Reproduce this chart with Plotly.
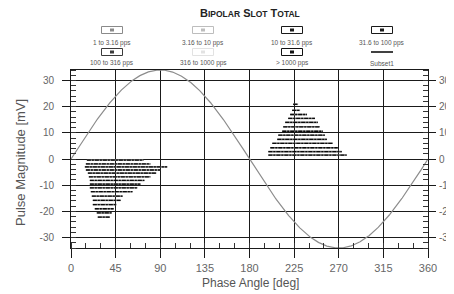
import numpy as np
import plotly.graph_objects as go

# ---------------- data ----------------
PHASE_TICKS = [0, 45, 90, 135, 180, 225, 270, 315, 360]
MAG_TICKS = [-30, -20, -10, 0, 10, 20, 30]
Y_RANGE = [-34, 34]
SINE_AMPLITUDE = 34

# negative-half-cycle pulse rows (magnitude, phase start, phase end)
NEG_MAG = [-0.4, -1.9, -3.0, -4.2, -5.4, -6.8, -8.2, -9.6, -11.0, -12.5, -14.2, -15.8, -17.4, -19.0, -20.6, -22.2]
NEG_START = [16, 15, 14, 15, 17, 18, 19, 19, 19, 20, 21, 22, 22, 24, 26, 27]
NEG_END = [73, 80, 97, 90, 86, 80, 74, 70, 67, 62, 52, 50, 46, 43, 41, 39]

# positive-half-cycle pulse rows
POS_MAG = [20.9, 18.6, 17.0, 15.5, 14.0, 12.3, 10.6, 9.1, 7.5, 6.0, 4.3, 2.8, 1.5]
POS_START = [224, 223, 221, 219, 216, 214, 213, 209, 208, 203, 201, 199, 199]
POS_END = [229, 231, 238, 246, 249, 251, 254, 256, 258, 264, 269, 273, 278]

LEGEND_LABELS = ["1 to 3.16 pps", "3.16 to 10 pps", "10 to 31.6 pps", "31.6 to 100 pps",
                 "100 to 316 pps", "316 to 1000 pps", "> 1000 pps", "Subset1"]
LEGEND_COLORS = ["#8a8a8a", "#bdbdbd", "#1a1a1a", "#1a1a1a",
                 "#3a3a3a", "#e2e2e2", "#111111", "#111111"]

# ---------------- layout constants ----------------
OFF = 8                      # page body margin
W, H = 454 - OFF, 294 - OFF
ML, MR, MT, MB = 71 - OFF, 26, 70 - OFF, 46
PW, PH = W - ML - MR, H - MT - MB


def px(x):
    """page x pixel -> paper coordinate"""
    return (x - OFF - ML) / PW


def py(y):
    """page y pixel -> paper coordinate"""
    return (H - MB - (y - OFF)) / PH


def rows_to_xy(mags, starts, ends):
    xs, ys = [], []
    for m, s, e in zip(mags, starts, ends):
        xs += [s, e, None]
        ys += [m, m, None]
    return xs, ys


fig = go.Figure()

phase = np.linspace(0, 360, 721)
fig.add_trace(go.Scatter(x=phase, y=SINE_AMPLITUDE * np.sin(np.radians(phase)),
                         mode="lines", line=dict(color="#8c8c8c", width=1.2),
                         hoverinfo="skip", showlegend=False))

for mags, starts, ends in [(NEG_MAG, NEG_START, NEG_END), (POS_MAG, POS_START, POS_END)]:
    xs, ys = rows_to_xy(mags, starts, ends)
    fig.add_trace(go.Scatter(x=xs, y=ys, mode="lines",
                             line=dict(color="#7a7a7a", width=1.6),
                             hoverinfo="skip", showlegend=False))
    fig.add_trace(go.Scatter(x=xs, y=ys, mode="lines",
                             line=dict(color="#0a0a0a", width=1.3, dash="4px,1px,2px,1px"),
                             hoverinfo="skip", showlegend=False))

# dummy trace to activate right axis
fig.add_trace(go.Scatter(x=[None], y=[None], yaxis="y2", showlegend=False, hoverinfo="skip"))

FONT = "Liberation Sans, Arial, sans-serif"
ytickfont = dict(family=FONT, size=10, color="#666666")
xtickfont = dict(family=FONT, size=11, color="#666666")

fig.update_layout(
    width=W, height=H,
    margin=dict(l=ML, r=MR, t=MT, b=MB),
    paper_bgcolor="white", plot_bgcolor="white",
    font=dict(family=FONT, color="#555555"),
    showlegend=False,
    xaxis=dict(range=[0, 360], tickvals=PHASE_TICKS, ticktext=[str(v) for v in PHASE_TICKS],
               automargin=False,
               showgrid=True, gridcolor="#1a1a1a", gridwidth=1, zeroline=False,
               ticks="outside", ticklen=9, tickcolor="#1a1a1a", tickwidth=1,
               showline=True, linecolor="#1a1a1a", linewidth=1, mirror=True,
               minor=dict(dtick=15, ticks="inside", ticklen=5, tickcolor="#333333", showgrid=False),
               tickfont=xtickfont, ticklabelstandoff=1),
    yaxis=dict(range=Y_RANGE, tickvals=MAG_TICKS, ticktext=[str(v) for v in MAG_TICKS],
               automargin=False,
               showgrid=True, gridcolor="#1a1a1a", gridwidth=1, zeroline=False,
               ticks="outside", ticklen=8, tickcolor="#1a1a1a",
               showline=True, linecolor="#1a1a1a", linewidth=1,
               minor=dict(dtick=2, ticks="inside", ticklen=5, tickcolor="#333333", showgrid=False),
               tickfont=ytickfont, ticklabelstandoff=6),
    yaxis2=dict(range=Y_RANGE, tickvals=MAG_TICKS, ticktext=[str(v) for v in MAG_TICKS],
                automargin=False,
                overlaying="y", side="right", showgrid=False, zeroline=False,
                ticks="outside", ticklen=7, tickcolor="#1a1a1a",
                showline=True, linecolor="#1a1a1a", linewidth=1,
                minor=dict(dtick=2, ticks="inside", ticklen=5, tickcolor="#333333", showgrid=False),
                tickfont=ytickfont, ticklabelstandoff=1),
)

# axis titles
fig.add_annotation(x=px(250), y=py(283), xref="paper", yref="paper", showarrow=False,
                   xanchor="center", yanchor="middle", text="Phase Angle [deg]",
                   font=dict(family=FONT, size=12, color="#555555"))
fig.add_annotation(x=px(20), y=py(163), xref="paper", yref="paper", showarrow=False,
                   xanchor="center", yanchor="middle", text="Pulse Magnitude [mV]", textangle=-90,
                   font=dict(family=FONT, size=13, color="#555555"))

# title (small caps)
fig.add_annotation(
    x=px(250), y=py(13), xref="paper", yref="paper", showarrow=False,
    xanchor="center", yanchor="middle",
    text=("<b>B<span style='font-size:8.5px'>IPOLAR</span> S<span style='font-size:8.5px'>LOT</span> "
          "T<span style='font-size:8.5px'>OTAL</span></b>"),
    font=dict(family=FONT, size=11, color="#222222"))

# custom legend grid (4 columns x 2 rows, symbol above label)
COL_X = [112, 203, 292, 382]
BOX_Y = [30, 52]
TXT_Y = [43, 63]
shapes = []
for i, (lab, col) in enumerate(zip(LEGEND_LABELS, LEGEND_COLORS)):
    r, c = divmod(i, 4)
    cx, cy = COL_X[c], BOX_Y[r]
    if lab == "Subset1":
        shapes.append(dict(type="line", xref="paper", yref="paper",
                           x0=px(cx - 11), x1=px(cx + 11), y0=py(cy), y1=py(cy),
                           line=dict(color=col, width=1.6)))
    else:
        shapes.append(dict(type="rect", xref="paper", yref="paper",
                           x0=px(cx - 10.5), x1=px(cx + 10.5), y0=py(cy + 3.5), y1=py(cy - 3.5),
                           line=dict(color=col, width=1), fillcolor="white"))
        shapes.append(dict(type="rect", xref="paper", yref="paper",
                           x0=px(cx - 2), x1=px(cx + 2), y0=py(cy + 1.5), y1=py(cy - 1.5),
                           line=dict(width=0), fillcolor=col))
    fig.add_annotation(x=px(cx), y=py(TXT_Y[r]), xref="paper", yref="paper", showarrow=False,
                       xanchor="center", yanchor="middle", text=lab,
                       font=dict(family=FONT, size=6.5, color="#555555"))

fig.update_layout(shapes=shapes)

fig.write_html("out.html")
